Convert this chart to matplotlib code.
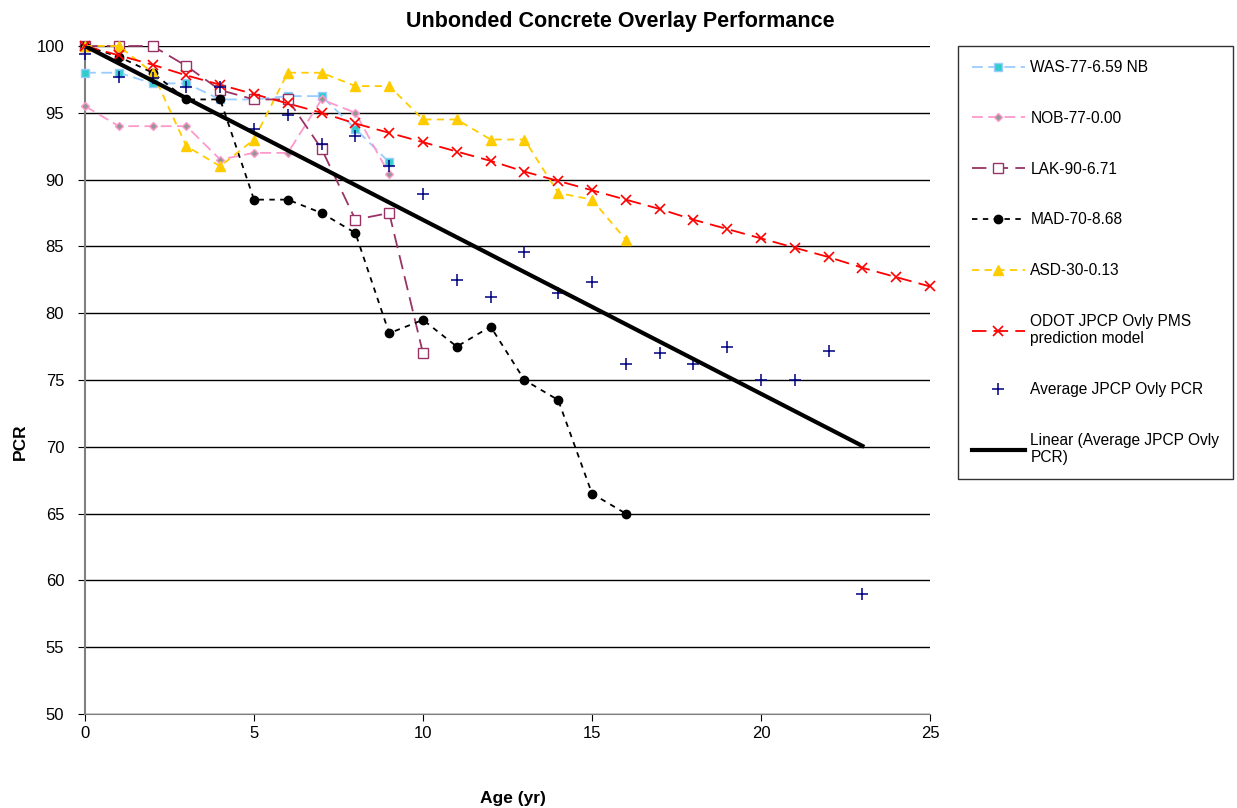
import numpy as np
import matplotlib
matplotlib.use("Agg")
import matplotlib.pyplot as plt

plt.rcParams['font.family'] = ['Liberation Sans', 'DejaVu Sans']

# data
age_was = list(range(0, 10))
pcr_was = [98, 98, 97.2, 97.2, 96, 96, 96.25, 96.25, 93.8, 91.3]

age_nob = list(range(0, 10))
pcr_nob = [95.5, 94, 94, 94, 91.5, 92, 92, 96, 95, 90.4]

age_lak = list(range(0, 11))
pcr_lak = [100, 100, 100, 98.5, 96.7, 96, 96, 92.3, 87, 87.5, 77]

age_mad = list(range(0, 17))
pcr_mad = [100, 99.2, 98, 96, 96, 88.5, 88.5, 87.5, 86, 78.5, 79.5, 77.5, 79,
           75, 73.5, 66.5, 65]

age_asd = list(range(0, 17))
pcr_asd = [100, 100, 98, 92.5, 91, 93, 98, 98, 97, 97, 94.5, 94.5, 93, 93,
           89, 88.5, 85.5]

age_odot = list(range(0, 26))
pcr_odot = [100, 99.3, 98.6, 97.8, 97.1, 96.4, 95.7, 95.0, 94.2, 93.5, 92.8,
            92.1, 91.4, 90.6, 89.9, 89.2, 88.5, 87.8, 87.0, 86.3, 85.6, 84.9,
            84.2, 83.4, 82.7, 82.0]

age_avg = list(range(0, 24))
pcr_avg = [99.4, 97.7, 97.6, 96.9, 96.9, 93.8, 94.8, 92.7, 93.3, 91.0, 88.9,
           82.5, 81.2, 84.6, 81.5, 82.3, 76.2, 77.0, 76.2, 77.5, 75.0, 75.0,
           77.2, 59.0]
trend_intercept = 100  # trendline forced through PCR 100 at age 0

W, H = 1237, 808
fig = plt.figure(figsize=(W / 100, H / 100), dpi=100)
ax = fig.add_axes([85 / W, 1 - 714 / H, (930 - 85) / W, (714 - 46) / H])

dash = (0, (6, 3))
lw = 1.3
kw = dict(lw=lw, clip_on=False, zorder=3)
ax.plot(age_was, pcr_was, color='#99CCFF', ls=dash, marker='s', ms=5.5,
        mfc='#33CCCC', mec='#99CCFF', label='WAS-77-6.59 NB', **kw)
ax.plot(age_nob, pcr_nob, color='#FF99CC', ls=dash, marker='D', ms=4.5,
        mfc='#969696', mec='#FF99CC', label='NOB-77-0.00', **kw)
ax.plot(age_lak, pcr_lak, color='#993366', ls=(0, (8, 4)), marker='s',
        ms=6.5, mfc='white', mec='#993366', label='LAK-90-6.71', **kw)
ax.plot(age_mad, pcr_mad, color='black', ls=(0, (3, 3)), marker='o',
        ms=6, mfc='black', mec='black', label='MAD-70-8.68', **kw)
ax.plot(age_asd, pcr_asd, color='#FFCC00', ls=(0, (4, 3)), marker='^',
        ms=7, mfc='#FFCC00', mec='#FFCC00', label='ASD-30-0.13', **kw)
ax.plot(age_odot, pcr_odot, color='#FF0000', ls=(0, (8, 4)), marker='x',
        ms=7.5, mew=1.2, mfc='#FF0000', mec='#FF0000',
        label='ODOT JPCP Ovly PMS\nprediction model', **kw)
ax.plot(age_avg, pcr_avg, ls='none', marker='+', ms=8, mew=1.1,
        color='#000080', label='Average JPCP Ovly PCR', clip_on=False,
        zorder=4)

# linear trend of the average series, intercept fixed
xa = np.array(age_avg, dtype=float)
ya = np.array(pcr_avg) - trend_intercept
k = np.sum(xa * ya) / np.sum(xa * xa)
xt = np.array([xa[0], xa[-1]])
ax.plot(xt, trend_intercept + k * xt, color='black', lw=3,
        label='Linear (Average JPCP Ovly\nPCR)', zorder=5)

ax.set_xlim(0, 25)
ax.set_ylim(50, 100)
ax.set_xticks(range(0, 26, 5))
ax.set_yticks(range(50, 101, 5))
ax.tick_params(labelsize=12, length=5, direction='out')
ax.tick_params(axis='y', pad=10)
ax.grid(axis='y', color='black', lw=1)
ax.set_axisbelow(True)
for s in ['top', 'right']:
    ax.spines[s].set_visible(False)
ax.spines['bottom'].set_color('#808080')
ax.spines['left'].set_color('#808080')
ax.spines['left'].set_linewidth(1.5)

fig.text(620 / W, 1 - 22 / H, 'Unbonded Concrete Overlay Performance',
         ha='center', va='center', fontsize=15.5, fontweight='bold')
fig.text(513 / W, 1 - 798 / H, 'Age (yr)', ha='center', va='center',
         fontsize=12.5, fontweight='bold')
fig.text(20 / W, 1 - 442 / H, 'PCR', ha='center', va='center', rotation=90,
         fontsize=12.5, fontweight='bold')

leg = fig.legend(*ax.get_legend_handles_labels(), loc='upper left',
                 bbox_to_anchor=(958 / W, 1 - 46 / H), frameon=True,
                 fancybox=False, edgecolor='black', fontsize=11.2,
                 labelspacing=2.3, handlelength=3.4, handletextpad=0.35,
                 borderpad=0.9, borderaxespad=0)
leg.get_frame().set_linewidth(1)

fig.savefig('out.png', dpi=100)
